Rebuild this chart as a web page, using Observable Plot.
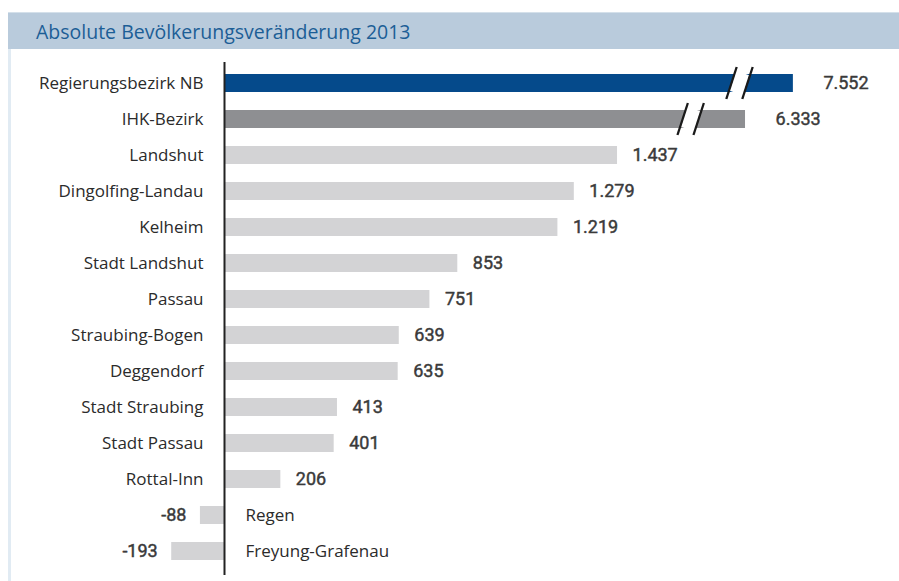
<!DOCTYPE html>
<html>
<head>
<meta charset="utf-8">
<script src="https://cdn.jsdelivr.net/npm/d3@7"></script>
<script src="https://cdn.jsdelivr.net/npm/@observablehq/plot@0.6"></script>
<style>
  html, body { margin: 0; padding: 0; background: #fff; }
  #wrap { position: relative; width: 899px; height: 581px; overflow: hidden; background: #fff; }
  #title { position: absolute; left: 8px; top: 12px; width: 891px; height: 37px; background: #b9cbdc;
           font-family: "Open Sans", sans-serif; font-size: 19.5px; color: #1c5e96; line-height: 37px;
           padding-left: 28px; box-sizing: border-box; border-top: 1px solid #d4e0ea; }
  #border { position: absolute; left: 8px; top: 49px; width: 3px; height: 532px; background: #e1ebf3; }
  #chart { position: absolute; left: 0; top: 56px; }
</style>
</head>
<body>
<div id="wrap">
  <div id="title">Absolute Bevölkerungsveränderung 2013</div>
  <div id="border"></div>
  <div id="chart"></div>
</div>
<script>
const categories = ["Regierungsbezirk NB", "IHK-Bezirk", "Landshut", "Dingolfing-Landau", "Kelheim",
  "Stadt Landshut", "Passau", "Straubing-Bogen", "Deggendorf", "Stadt Straubing", "Stadt Passau",
  "Rottal-Inn", "Regen", "Freyung-Grafenau"];
const values = [7552, 6333, 1437, 1279, 1219, 853, 751, 639, 635, 413, 401, 206, -88, -193];
// bars drawn with a broken axis, and the value at which the break mark sits
const brokenCategories = ["Regierungsbezirk NB", "IHK-Bezirk"];
const breakValues = [6070, 3940];
// broken axis: values above 1500 are compressed
const breakDomain = [0, 1500, 6333, 7552];
const breakDisplay = [0, 1500, 1905, 2080];

const rows = categories.map((name, i) => ({name, value: values[i], broken: brokenCategories.includes(name)}));
const breaks = brokenCategories.map((name, i) => ({name, at: breakValues[i]}));

const compress = d3.scaleLinear().domain(breakDomain).range(breakDisplay);

const de = d3.formatLocale({decimal: ",", thousands: ".", grouping: [3], currency: ["", " €"], minus: "-"});
const fmt = de.format(",d");

const fillOf = d => d.name === "Regierungsbezirk NB" ? "#054a8b" : d.name === "IHK-Bezirk" ? "#8e8f92" : "#d3d3d5";
const labelFont = "'Open Sans', sans-serif";
const numFont = "Roboto, sans-serif";
const numStyle = {fontFamily: numFont, fontSize: 18, fontWeight: 400, fill: "#3a3a3a", stroke: "#3a3a3a", strokeWidth: 0.45};

const chart = Plot.plot({
  width: 899,
  height: 525,
  marginTop: 9,
  marginBottom: 12,
  marginLeft: 0,
  marginRight: 0,
  x: {transform: compress, domain: [0, 1500], range: [224, 634.25], axis: null},
  y: {domain: categories, axis: null, paddingInner: 0.5, paddingOuter: 0.25},
  marks: [
    Plot.barX(rows, {y: "name", x1: 0, x2: "value", fill: fillOf}),
    // axis break: slanted white gap and two slashes
    Plot.tickX(breaks, {x: "at", y: "name", stroke: "white", strokeWidth: 14, insetTop: -1, insetBottom: -1, ariaLabel: () => "axis break"}),
    Plot.tickX(breaks, {x: "at", y: "name", stroke: "#1a1a1a", strokeWidth: 2.3, dx: -8, insetTop: -7, insetBottom: -7, ariaLabel: () => "axis break"}),
    Plot.tickX(breaks, {x: "at", y: "name", stroke: "#1a1a1a", strokeWidth: 2.3, dx: 8, insetTop: -7, insetBottom: -7, ariaLabel: () => "axis break"}),
    Plot.ruleX([0], {stroke: "#222", strokeWidth: 2, insetTop: -3, insetBottom: -6}),
    // category labels
    Plot.text(rows.filter(d => d.value >= 0), {y: "name", x: 0, text: "name", textAnchor: "end", dx: -21,
      fontFamily: labelFont, fontSize: 17, fill: "#2b2b2b"}),
    Plot.text(rows.filter(d => d.value < 0), {y: "name", x: 0, text: "name", textAnchor: "start", dx: 21,
      fontFamily: labelFont, fontSize: 17, fill: "#2b2b2b"}),
    // value labels
    Plot.text(rows.filter(d => d.value >= 0 && !d.broken), {y: "name", x: "value", text: d => fmt(d.value), textAnchor: "start", dx: 15, ...numStyle}),
    Plot.text(rows.filter(d => d.broken), {y: "name", x: "value", text: d => fmt(d.value), textAnchor: "start", dx: 30, ...numStyle}),
    Plot.text(rows.filter(d => d.value < 0), {y: "name", x: "value", text: d => fmt(d.value), textAnchor: "end", dx: -14, ...numStyle})
  ]
});

// slant the break ticks into slashes
const slant = Math.tan(18 * Math.PI / 180);
d3.select(chart).selectAll("line").filter(function() {
    return this.getAttribute("aria-label") === "axis break" ||
           (this.parentNode && this.parentNode.getAttribute("aria-label") === "axis break");
  }).each(function() {
    const l = d3.select(this);
    const y1 = +l.attr("y1"), y2 = +l.attr("y2"), x1 = +l.attr("x1"), x2 = +l.attr("x2");
    const s = slant * Math.abs(y2 - y1) / 2;
    if (y1 < y2) { l.attr("x1", x1 + s).attr("x2", x2 - s); }
    else { l.attr("x1", x1 - s).attr("x2", x2 + s); }
  });

document.getElementById("chart").appendChild(chart);
</script>
</body>
</html>
